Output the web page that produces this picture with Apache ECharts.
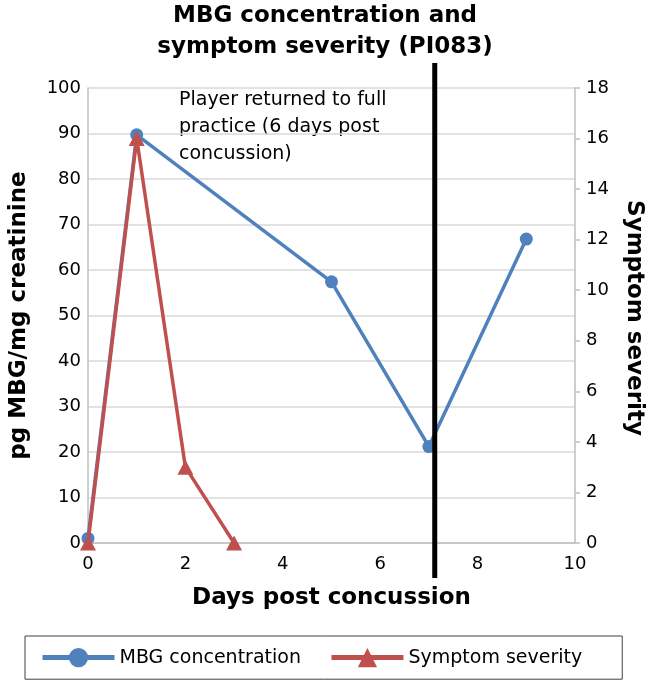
<!DOCTYPE html>
<html>
<head>
<meta charset="utf-8">
<script src="https://cdn.jsdelivr.net/npm/echarts@6/dist/echarts.min.js"></script>
<style>
html,body{margin:0;padding:0;background:#fff;}
#c{width:650px;height:683px;}
</style>
</head>
<body>
<div id="c"></div>
<script>
// ---- data ----
const mbgDays = [0, 1, 5, 7, 9];
const mbgValues = [1, 89.7, 57.4, 21.2, 66.8];
const symptomDays = [0, 1, 2, 3];
const symptomValues = [0, 16, 3, 0];
const returnDay = [7.12];
const titleLines = ['MBG concentration and', 'symptom severity (PI083)'];
const noteLines = ['Player returned to full', 'practice (6 days post', 'concussion)'];

const FONT = 'DejaVu Sans';
const chart = echarts.init(document.getElementById('c'), null, {renderer: 'canvas'});

const option = {
  backgroundColor: '#fff',
  animation: false,
  title: {
    text: titleLines.join('\n'),
    left: 'center',
    top: -4,
    textStyle: {fontFamily: FONT, fontSize: 23, fontWeight: 'bold', color: '#000', lineHeight: 31}
  },
  grid: {left: 81, right: 75, top: 88, bottom: 140, containLabel: false},
  legend: {
    data: ['MBG concentration', 'Symptom severity'],
    left: 25, top: 636,
    padding: [12, 40, 12, 15],
    itemWidth: 72, itemHeight: 24, itemGap: 28,
    lineStyle: {width: 5},
    borderColor: '#404040', borderWidth: 1,
    textStyle: {fontFamily: FONT, fontSize: 19, color: '#000'}
  },
  xAxis: {
    type: 'value', min: 0, max: 10, interval: 2,
    name: 'Days post concussion', nameLocation: 'middle', nameGap: 44,
    nameTextStyle: {fontFamily: FONT, fontSize: 23, fontWeight: 'bold', color: '#000'},
    axisLine: {show: true, onZero: false, lineStyle: {color: '#bfbfbf', width: 1.5}},
    axisTick: {show: false},
    axisLabel: {fontFamily: FONT, fontSize: 18, color: '#000', margin: 12},
    splitLine: {show: false}
  },
  yAxis: [{
    type: 'value', min: 0, max: 100, interval: 10, position: 'left',
    name: 'pg MBG/mg creatinine', nameLocation: 'middle', nameGap: 57,
    nameTextStyle: {fontFamily: FONT, fontSize: 23, fontWeight: 'bold', color: '#000'},
    axisLine: {show: true, lineStyle: {color: '#bfbfbf', width: 1.5}},
    axisTick: {show: false},
    axisLabel: {fontFamily: FONT, fontSize: 18, color: '#000', margin: 7},
    splitLine: {show: true, lineStyle: {color: '#d9d9d9', width: 1.5}}
  }, {
    type: 'value', min: 0, max: 18, interval: 2, position: 'right',
    axisLine: {show: true, lineStyle: {color: '#bfbfbf', width: 1.5}},
    axisTick: {show: true, inside: false, length: 5, lineStyle: {color: '#bfbfbf', width: 1.5}},
    axisLabel: {fontFamily: FONT, fontSize: 18, color: '#000', margin: 11},
    splitLine: {show: false}
  }],
  graphic: [{
    type: 'text', left: 179, top: 87,
    style: {text: noteLines.join('\n'), font: '19px "' + FONT + '"', fill: '#000', lineHeight: 27}
  }, {
    type: 'text', x: 634, y: 318, rotation: -Math.PI / 2,
    style: {text: 'Symptom severity', font: 'bold 23px "' + FONT + '"', fill: '#000', align: 'center', verticalAlign: 'middle'}
  }],
  series: [{
    name: 'Return line', type: 'custom', clip: false, z: 5,
    data: returnDay.map(d => [d]),
    renderItem: function (params, api) {
      const top = api.coord([api.value(0), 100]);
      const bot = api.coord([api.value(0), 0]);
      return {
        type: 'line',
        shape: {x1: top[0], y1: top[1] - 25, x2: bot[0], y2: bot[1] + 35},
        style: {stroke: '#000', lineWidth: 5}
      };
    },
    encode: {x: 0}
  }, {
    name: 'MBG concentration', type: 'line', yAxisIndex: 0, z: 3,
    data: mbgDays.map((d, i) => [d, mbgValues[i]]),
    symbol: 'circle', symbolSize: 13,
    lineStyle: {color: '#4f81bd', width: 3.5},
    itemStyle: {color: '#4f81bd'}
  }, {
    name: 'Symptom severity', type: 'line', yAxisIndex: 1, z: 4,
    data: symptomDays.map((d, i) => [d, symptomValues[i]]),
    symbol: 'triangle', symbolSize: [16, 15],
    lineStyle: {color: '#c0504d', width: 3.5},
    itemStyle: {color: '#c0504d'}
  }]
};
chart.setOption(option);
</script>
</body>
</html>
